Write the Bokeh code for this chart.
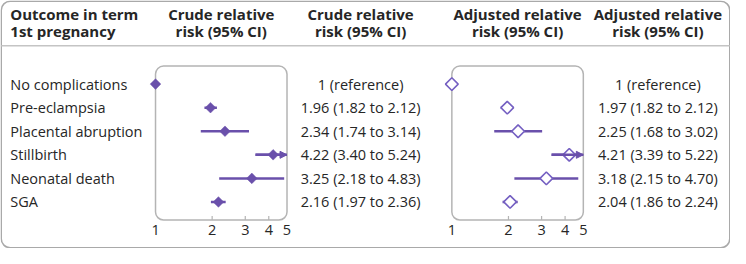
import math
from bokeh.plotting import figure
from bokeh.models import Range1d, LogScale, ColumnDataSource, Arrow, NormalHead
from bokeh.core.properties import value
from bokeh.embed import file_html
from bokeh.resources import INLINE

# ---------------- data ----------------
outcomes = ["No complications", "Pre-eclampsia", "Placental abruption",
            "Stillbirth", "Neonatal death", "SGA"]
crude_rr = [1.00, 1.96, 2.34, 4.22, 3.25, 2.16]
crude_lo = [1.00, 1.82, 1.74, 3.40, 2.18, 1.97]
crude_hi = [1.00, 2.12, 3.14, 5.24, 4.83, 2.36]
adj_rr = [1.00, 1.97, 2.25, 4.21, 3.18, 2.04]
adj_lo = [1.00, 1.82, 1.68, 3.39, 2.15, 1.86]
adj_hi = [1.00, 2.12, 3.02, 5.22, 4.70, 2.24]
tick_values = [1, 2, 3, 4, 5]
tick_labels = ["1", "2", "3", "4", "5"]
header_line1 = ["Outcome in term", "Crude relative", "Crude relative",
                "Adjusted relative", "Adjusted relative"]
header_line2 = ["1st pregnancy", "risk (95% CI)", "risk (95% CI)",
                "risk (95% CI)", "risk (95% CI)"]
reference_label = "1 (reference)"

# ---------------- layout ----------------
W, H = 730, 248
def fx(xr):
    return (xr - 1) * W / 744.0
def fy(yr):
    return (yr - 1) * H / 261.0

FONT = "Open Sans"
TXT = "#262626"
PURPLE = "#6a50ab"
PURPLE_LIGHT = "#7560c2"
BOXC = "#b4b4b4"
BODY_SIZE = "14.5px"
HEAD_SIZE = "15px"

xmin, xmax = tick_values[0], tick_values[-1]

p = figure(width=W, height=H, x_range=Range1d(0, W), y_range=Range1d(H, 0),
           toolbar_location=None, output_backend="svg", min_border=0,
           x_axis_location=None, y_axis_location=None)
p.grid.visible = False
p.outline_line_color = None
p.background_fill_color = "white"
p.border_fill_color = "white"

row0_y, row5_y = fy(89), fy(213)
dy = (row5_y - row0_y) / (len(outcomes) - 1)
row_top_val = -row0_y / dy
row_bot_val = (H - row0_y) / dy
p.extra_y_ranges = {"rows": Range1d(start=row_bot_val, end=row_top_val)}

panels = {
    "crude": (fx(159), fx(293)),
    "adj": (fx(461), fx(595)),
}
extra_x = {}
for name, (a, b) in panels.items():
    kinv = (math.log(xmax) - math.log(xmin)) / (b - a)
    start = math.exp(math.log(xmin) - a * kinv)
    end = math.exp(math.log(xmin) + (W - a) * kinv)
    extra_x[name] = Range1d(start=start, end=end)
p.extra_x_ranges = extra_x
p.extra_x_scales = {"crude": LogScale(), "adj": LogScale()}

# outer border
p.quad(left=[0.75], right=[W - 0.75], top=[0.75], bottom=[H - 0.75],
       fill_color=None, line_color="#a9a9a9", line_width=1.5, border_radius=9)
# header divider
p.segment(x0=[0.75], x1=[W - 0.75], y0=[fy(48.5)], y1=[fy(48.5)],
          line_color="#c4c4c4", line_width=1.5)

# headers
hx = [fx(11), fx(226), fx(368), fx(528), fx(671)]
halign = ["left", "center", "center", "center", "center"]
hsrc = ColumnDataSource(dict(x=hx, t1=header_line1, t2=header_line2, al=halign,
                             y1=[fy(15)] * 5, y2=[fy(33)] * 5))
for col, ycol in (("t1", "y1"), ("t2", "y2")):
    p.text(x="x", y=ycol, text=col, source=hsrc, text_align="al",
           text_baseline="middle", text_font=value(FONT), text_font_style="bold",
           text_font_size=HEAD_SIZE, text_color=TXT)

rows = list(range(len(outcomes)))

# outcome labels
p.text(x=[fx(11)] * len(outcomes), y=rows, text=outcomes, y_range_name="rows",
       text_align="left", text_baseline="middle", text_font=value(FONT),
       text_font_size=BODY_SIZE, text_color=TXT)

def fmt(rr, lo, hi, i):
    if i == 0:
        return reference_label
    return f"{rr:.2f} ({lo:.2f} to {hi:.2f})"

box_top, box_bot = fy(70), fy(232)

def panel(name, rr, lo, hi, label_x, hollow):
    # box
    p.quad(left=[xmin], right=[xmax], top=[box_top], bottom=[box_bot],
           x_range_name=name, fill_color=None, line_color=BOXC,
           line_width=1.5, border_radius=8)
    # ticks
    inner = [t for t in tick_values if xmin < t < xmax]
    p.segment(x0=inner, x1=inner, y0=[box_bot] * len(inner),
              y1=[box_bot - 4] * len(inner), x_range_name=name,
              line_color=BOXC, line_width=1.2)
    p.text(x=tick_values, y=[fy(243)] * len(tick_values), text=tick_labels,
           x_range_name=name, text_align="center", text_baseline="middle",
           text_font=value(FONT), text_font_size=BODY_SIZE, text_color=TXT)
    # CI lines
    src = ColumnDataSource(dict(
        y=rows, rr=rr, lo=lo, hi=[min(h, xmax) for h in hi]))
    p.segment(x0="lo", x1="hi", y0="y", y1="y", source=src, x_range_name=name,
              y_range_name="rows", line_color=PURPLE, line_width=2.5)
    # truncated arrows
    tr = [i for i in rows if hi[i] > xmax]
    if tr:
        asrc = ColumnDataSource(dict(x0=[lo[i] for i in tr],
                                     x1=[xmax] * len(tr),
                                     y=[rows[i] for i in tr]))
        p.add_layout(Arrow(x_start="x0", y_start="y", x_end="x1", y_end="y",
                           source=asrc, x_range_name=name, y_range_name="rows",
                           line_color=PURPLE, line_width=2.5,
                           end=NormalHead(size=7, fill_color=PURPLE,
                                          line_color=PURPLE, line_width=1)))
    # points
    if hollow:
        p.scatter(x="rr", y="y", source=src, x_range_name=name,
                  y_range_name="rows", marker="square", angle=math.pi / 4,
                  size=9, fill_color="white", line_color=PURPLE_LIGHT,
                  line_width=1.6)
    else:
        p.scatter(x="rr", y="y", source=src, x_range_name=name,
                  y_range_name="rows", marker="square", angle=math.pi / 4,
                  size=7.5, fill_color=PURPLE, line_color=PURPLE, line_width=0.5)
    # value labels
    labels = [fmt(rr[i], lo[i], hi[i], i) for i in rows]
    p.text(x=[label_x] * len(rows), y=rows, text=labels, y_range_name="rows",
           text_align="center", text_baseline="middle", text_font=value(FONT),
           text_font_size=BODY_SIZE, text_color=TXT)

panel("crude", crude_rr, crude_lo, crude_hi, fx(368), hollow=False)
panel("adj", adj_rr, adj_lo, adj_hi, fx(671), hollow=True)

open("out.html", "w").write(file_html(p, INLINE))
